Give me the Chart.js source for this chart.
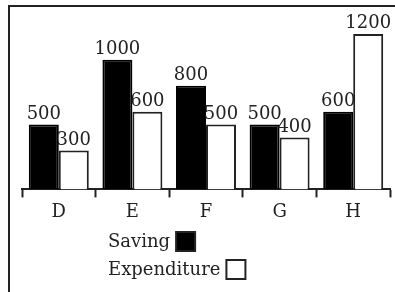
<!DOCTYPE html>
<html><head><meta charset="utf-8">
<script src="https://cdn.jsdelivr.net/npm/chart.js@4"></script>
<style>
html,body{margin:0;padding:0;background:#fff;}
#wrap{position:relative;width:395px;height:292px;overflow:hidden;background:#fff;}
#frame{position:absolute;left:8px;top:5px;width:400px;height:300px;border-top:2px solid #222;border-left:2px solid #222;}
canvas{position:absolute;left:0;top:0;}
</style></head><body>
<div id="wrap"><div id="frame"></div><canvas id="c" width="395" height="292"></canvas></div>
<script>
const categories = ['D', 'E', 'F', 'G', 'H'];
const saving = [500, 1000, 800, 500, 600];
const expenditure = [300, 600, 500, 400, 1200];
const seriesNames = ['Saving', 'Expenditure'];
const yMin = 0, yMax = 1400;

const FONT = '"DejaVu Serif", "Liberation Serif", serif';
const INK = '#222';

const valueLabels = {
  id: 'valueLabels',
  afterDatasetsDraw(chart) {
    const ctx = chart.ctx;
    ctx.save();
    ctx.font = '18px ' + FONT;
    ctx.fillStyle = INK;
    ctx.textAlign = 'center';
    ctx.textBaseline = 'alphabetic';
    chart.data.datasets.forEach((ds, i) => {
      chart.getDatasetMeta(i).data.forEach((bar, j) => {
        ctx.fillText(String(ds.data[j]), bar.x, bar.y - 6);
      });
    });
    ctx.restore();
  }
};

const sideLegend = {
  id: 'sideLegend',
  afterDraw(chart) {
    const items = Chart.defaults.plugins.legend.labels.generateLabels(chart);
    const ctx = chart.ctx;
    ctx.save();
    ctx.font = '18px ' + FONT;
    ctx.textAlign = 'left';
    ctx.textBaseline = 'alphabetic';
    const x0 = 108, baselines = [247, 275];
    items.forEach((it, k) => {
      const y = baselines[k];
      ctx.fillStyle = INK;
      ctx.fillText(it.text, x0, y);
      const w = ctx.measureText(it.text).width;
      const bx = x0 + w + 6, by = y - 15;
      ctx.fillStyle = it.fillStyle;
      ctx.fillRect(bx, by, 19, 19);
      ctx.lineWidth = 2;
      ctx.strokeStyle = INK;
      ctx.strokeRect(bx, by, 19, 19);
    });
    ctx.restore();
  }
};

new Chart(document.getElementById('c'), {
  type: 'bar',
  data: {
    labels: categories,
    datasets: [
      { label: seriesNames[0], data: saving, backgroundColor: '#000', borderColor: '#000', borderWidth: 2 },
      { label: seriesNames[1], data: expenditure, backgroundColor: '#fff', borderColor: INK, borderWidth: 2 }
    ]
  },
  options: {
    responsive: false,
    animation: false,
    layout: { padding: { left: 22, right: 5, top: 8, bottom: 65 } },
    datasets: { bar: { categoryPercentage: 0.815, barPercentage: 1 } },
    plugins: { legend: { display: false }, tooltip: { enabled: false } },
    scales: {
      x: {
        offset: true,
        grid: { offset: true, drawOnChartArea: false, drawTicks: true, tickLength: 8, tickWidth: 2, tickColor: INK },
        border: { display: true, color: INK, width: 2 },
        ticks: { color: INK, font: { family: FONT, size: 18 }, padding: 4 }
      },
      y: { display: false, min: yMin, max: yMax }
    }
  },
  plugins: [valueLabels, sideLegend]
});
</script>
</body></html>
